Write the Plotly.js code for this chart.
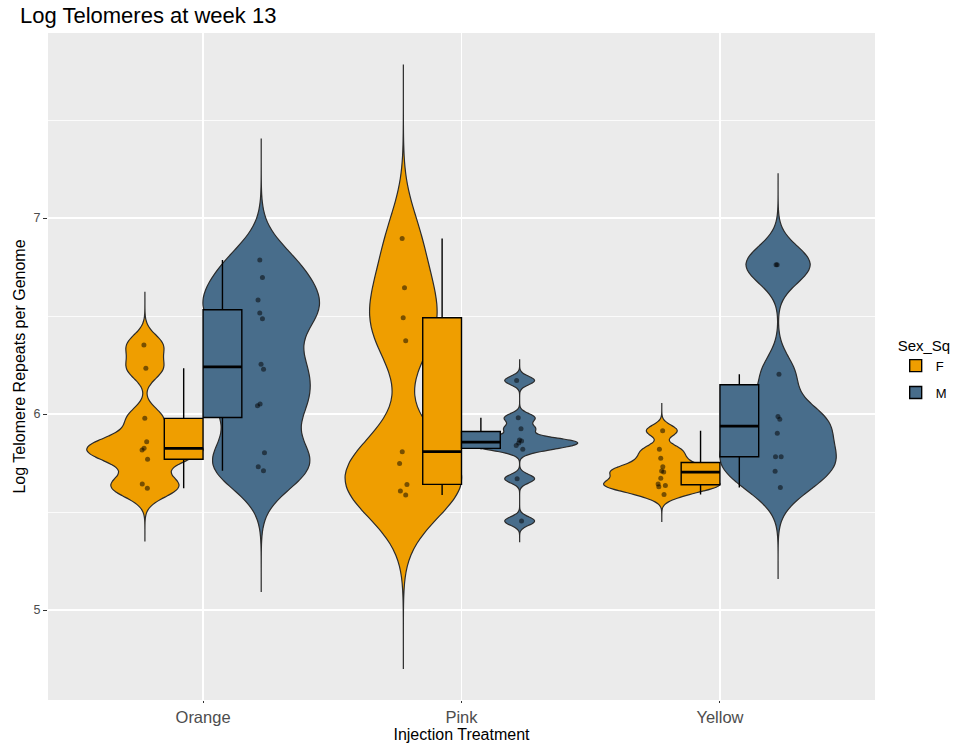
<!DOCTYPE html>
<html>
<head>
<meta charset="utf-8">
<script src="https://cdn.plot.ly/plotly-3.0.1.min.js"></script>
<style>html,body{margin:0;padding:0;background:#fff}#chart{width:956px;height:744px}</style>
</head>
<body>
<div id="chart"></div>
<script>
// ---- data ----
var categories = ['Orange', 'Pink', 'Yellow'];
var sexes = ['F', 'M'];
var orangeF = [6.352, 6.233, 5.978, 5.859, 5.825, 5.816, 5.769, 5.643, 5.621];
var orangeM = [6.786, 6.697, 6.582, 6.515, 6.486, 6.254, 6.228, 6.051, 6.042, 5.803, 5.731, 5.711];
var pinkF = [6.896, 6.644, 6.491, 6.374, 5.808, 5.748, 5.641, 5.607, 5.587];
var pinkM = [6.171, 5.981, 5.925, 5.867, 5.862, 5.852, 5.840, 5.820, 5.670, 5.454];
var yellowF = [5.915, 5.820, 5.774, 5.731, 5.709, 5.704, 5.672, 5.643, 5.636, 5.629, 5.590];
var yellowM = [6.762, 6.762, 6.203, 5.988, 5.974, 5.902, 5.782, 5.782, 5.708, 5.625];

var groupsF = [orangeF, pinkF, yellowF];
var groupsM = [orangeM, pinkM, yellowM];

// ---- styling / stat settings ----
var fillColors = {F: '#EF9E00', M: '#486D8B'};
var violinOffset = 0.225;
var violinWidth = 0.45;
var boxWidth = 0.15;
var bwAdjust = 0.6;   // density adjust (like ggplot's adjust=)
var cut = 3;          // tails extend cut * unadjusted bw (ggplot trim = FALSE)

function sorted(v) { return v.slice().sort(function (a, b) { return a - b; }); }
function quantile7(v, p) {
  var s = sorted(v), h = (s.length - 1) * p, lo = Math.floor(h), hi = Math.ceil(h);
  return s[lo] + (h - lo) * (s[hi] - s[lo]);
}
function sd(v) {
  var m = v.reduce(function (a, b) { return a + b; }, 0) / v.length;
  var ss = v.reduce(function (a, b) { return a + (b - m) * (b - m); }, 0);
  return Math.sqrt(ss / (v.length - 1));
}
function nrd0(v) {
  var iqr = quantile7(v, 0.75) - quantile7(v, 0.25);
  var lo = Math.min(sd(v), iqr / 1.34);
  if (!lo) lo = sd(v) || 1;
  return 0.9 * lo * Math.pow(v.length, -0.2);
}
function boxStats(v) {
  var q1 = quantile7(v, 0.25), med = quantile7(v, 0.5), q3 = quantile7(v, 0.75);
  var iqr = q3 - q1;
  var inside = v.filter(function (x) { return x >= q1 - 1.5 * iqr && x <= q3 + 1.5 * iqr; });
  return {q1: q1, med: med, q3: q3, lo: Math.min.apply(null, inside), hi: Math.max.apply(null, inside)};
}

var traces = [];
// violins: one trace per group, each scaled to the same max width (ggplot scale = "width")
sexes.forEach(function (s, si) {
  var groups = si === 0 ? groupsF : groupsM;
  var off = si === 0 ? -violinOffset : violinOffset;
  groups.forEach(function (vals, ci) {
    var bw = nrd0(vals);
    var mn = Math.min.apply(null, vals), mx = Math.max.apply(null, vals);
    traces.push({
      type: 'violin',
      x: vals.map(function () { return ci + 1 + off; }),
      y: vals,
      bandwidth: bw * bwAdjust,
      spanmode: 'manual',
      span: [mn - cut * bw, mx + cut * bw],
      width: violinWidth,
      scalegroup: s + ci,
      scalemode: 'width',
      fillcolor: fillColors[s],
      line: {color: '#2B2B2B', width: 1.2},
      points: 'all',
      pointpos: 0,
      jitter: 0.08,
      marker: {color: 'rgba(0,0,0,0.5)', size: 5, line: {width: 0}},
      showlegend: false,
      hoverinfo: 'y',
      name: s
    });
  });
});

// boxes
var medX = [], medY = [];
sexes.forEach(function (s, si) {
  var groups = si === 0 ? groupsF : groupsM;
  var off = si === 0 ? -boxWidth / 2 : boxWidth / 2;
  var st = groups.map(boxStats);
  var xs = groups.map(function (v, ci) { return ci + 1 + off; });
  traces.push({
    type: 'box',
    name: s,
    legendgroup: s,
    x: xs,
    q1: st.map(function (d) { return d.q1; }),
    median: st.map(function (d) { return d.med; }),
    q3: st.map(function (d) { return d.q3; }),
    lowerfence: st.map(function (d) { return d.lo; }),
    upperfence: st.map(function (d) { return d.hi; }),
    width: boxWidth,
    whiskerwidth: 0,
    boxpoints: false,
    fillcolor: fillColors[s],
    line: {color: '#000000', width: 1.4},
    showlegend: true
  });
  st.forEach(function (d, ci) {
    medX.push(xs[ci] - boxWidth / 2, xs[ci] + boxWidth / 2, null);
    medY.push(d.med, d.med, null);
  });
});
// thicker median lines (ggplot fatten)
traces.push({
  type: 'scatter', mode: 'lines', x: medX, y: medY,
  line: {color: '#000000', width: 2.8}, showlegend: false, hoverinfo: 'skip'
});

var layout = {
  width: 956, height: 744,
  margin: {l: 48, r: 81, t: 33, b: 44, autoexpand: false},
  paper_bgcolor: '#FFFFFF',
  plot_bgcolor: '#EBEBEB',
  font: {family: 'Liberation Sans, Arial, sans-serif', color: '#000000'},
  title: {text: 'Log Telomeres at week 13', x: 20 / 956, xanchor: 'left', xref: 'container',
          y: 1 - 15 / 744, yanchor: 'middle', yref: 'container', font: {size: 22, color: '#000'}},
  boxmode: 'overlay', violinmode: 'overlay',
  xaxis: {
    range: [0.4, 3.6], tickvals: [1, 2, 3], ticktext: categories,
    showgrid: true, gridcolor: '#FFFFFF', gridwidth: 1.6, zeroline: false,
    ticks: 'outside', ticklen: 2, tickcolor: '#333333', tickwidth: 1,
    tickfont: {size: 16.5, color: '#4D4D4D'},
    title: {text: 'Injection Treatment', font: {size: 16, color: '#000'}, standoff: 2},
    automargin: false,
    showline: false
  },
  yaxis: {
    range: [4.541, 7.944], tickvals: [5, 6, 7],
    showgrid: true, gridcolor: '#FFFFFF', gridwidth: 1.6, zeroline: false,
    minor: {tickvals: [4.5, 5.5, 6.5, 7.5], showgrid: true, gridcolor: '#FFFFFF', gridwidth: 0.8, ticks: ''},
    ticks: 'outside', ticklen: 4, tickcolor: '#333333', tickwidth: 1,
    tickfont: {size: 12.5, color: '#4D4D4D'},
    title: {text: 'Log Telomere Repeats per Genome', font: {size: 16, color: '#000'}, standoff: 3},
    automargin: true,
    showline: false
  },
  legend: {
    x: 1.025, xanchor: 'left', y: 0.553, yanchor: 'top',
    title: {text: 'Sex_Sq', font: {size: 15, color: '#000'}},
    font: {size: 13, color: '#000'},
    bgcolor: 'rgba(0,0,0,0)', tracegroupgap: 7, itemwidth: 30
  },
  showlegend: true
};

Plotly.newPlot('chart', traces, layout, {displayModeBar: false, staticPlot: true});
</script>
</body>
</html>
